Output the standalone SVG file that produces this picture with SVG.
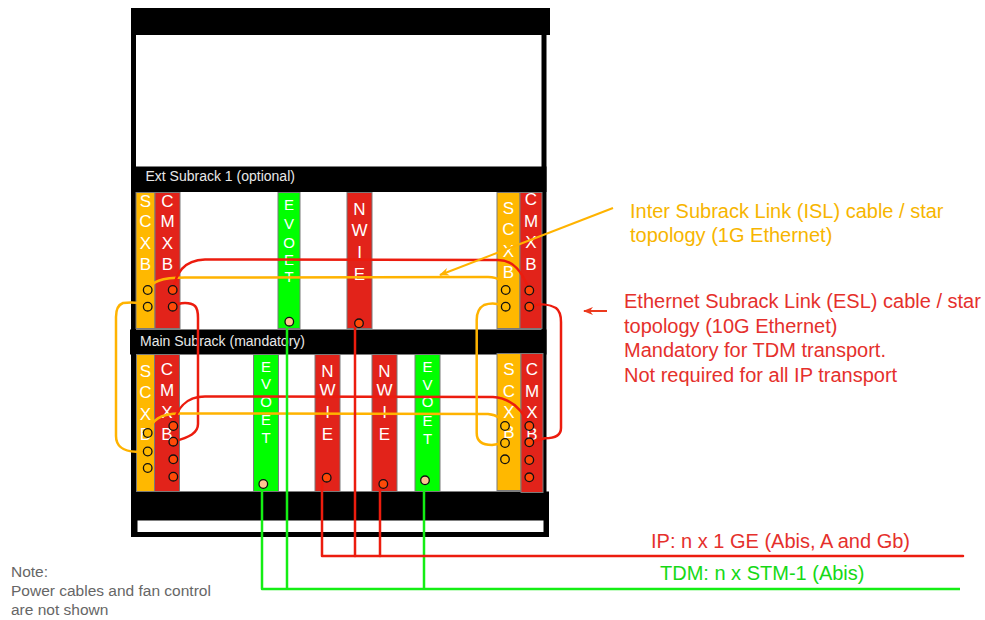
<svg xmlns="http://www.w3.org/2000/svg" width="985" height="620" viewBox="0 0 985 620">
<style>
text{font-family:"Liberation Sans",Arial,sans-serif}
.blk{fill:#000}
.card{stroke:#7a7a7a;stroke-width:1}
.o{fill:#FFB800}
.r{fill:#E2231A}
.g{fill:#00FF00}
.lt{fill:#fff;font-size:17px;text-anchor:middle}
.lt14{fill:#fff;font-size:15px;text-anchor:middle}
.bar{fill:#e8e8e8;font-size:14px}
.co{fill:none;stroke:#FFB300;stroke-width:2.5;stroke-linecap:round;stroke-linejoin:round}
.cr{fill:none;stroke:#EC1C0E;stroke-width:2.5;stroke-linecap:round;stroke-linejoin:round}
.cg{fill:none;stroke:#14EE14;stroke-width:2.5;stroke-linejoin:round}
.dot{stroke:#111;stroke-width:1.3}
.dO{fill:#FFB800}
.dR{fill:#FF4A08}
.dP{fill:#FFC490}
.lbl{font-size:20px}
</style>
<defs>
<marker id="ahO" viewBox="0 0 10 8" refX="9" refY="4" markerWidth="10" markerHeight="8" orient="auto" markerUnits="userSpaceOnUse">
<path d="M0,0 L10,4 L0,8 L3,4 z" fill="#FFB300"/>
</marker>
<marker id="ahR" viewBox="0 0 10 8" refX="9" refY="4" markerWidth="10" markerHeight="8" orient="auto" markerUnits="userSpaceOnUse">
<path d="M0,0 L10,4 L0,8 L3,4 z" fill="#EC3A1E"/>
</marker>
</defs>
<rect width="985" height="620" fill="#fff"/>

<g id="rack">
<rect class="blk" x="131" y="8" width="419" height="27"/>
<rect class="blk" x="131" y="34" width="5" height="500"/>
<rect class="blk" x="541.5" y="34" width="5" height="500"/>
<rect class="blk" x="131" y="491.5" width="418" height="45.5"/>
<rect x="137.5" y="520.5" width="406" height="11.5" fill="#fff"/>
</g>

<g id="ext-subrack">
<rect class="blk" x="131" y="166.5" width="415.5" height="25.5"/>
<text class="bar" x="145.5" y="181">Ext Subrack 1 (optional)</text>
</g>
<g id="main-subrack">
<rect class="blk" x="130" y="329.5" width="416.5" height="25"/>
<text class="bar" x="140" y="346">Main Subrack (mandatory)</text>
</g>

<g id="ext-scxb-l"><rect class="card o" x="136" y="192.5" width="19" height="136"/>
<text class="lt" x="145.5" y="206.5">S</text><text class="lt" x="145.5" y="227">C</text><text class="lt" x="145.5" y="249">X</text><text class="lt" x="145.5" y="270">B</text></g>
<g id="ext-cmxb-l"><rect class="card r" x="155" y="192.5" width="25" height="136"/>
<text class="lt" x="167.5" y="206.5">C</text><text class="lt" x="167.5" y="227">M</text><text class="lt" x="167.5" y="249">X</text><text class="lt" x="167.5" y="270">B</text></g>
<g id="ext-evoet"><rect class="card g" x="278" y="192.5" width="22" height="136"/>
<text class="lt14" x="289" y="210">E</text><text class="lt14" x="289" y="229">V</text><text class="lt14" x="289" y="248">O</text><text class="lt14" x="289" y="265">E</text><text class="lt14" x="289" y="282">T</text></g>
<g id="ext-nwie"><rect class="card r" x="347" y="192.5" width="25" height="136"/>
<text class="lt" x="359.5" y="215">N</text><text class="lt" x="359.5" y="236">W</text><text class="lt" x="359.5" y="258">I</text><text class="lt" x="359.5" y="280">E</text></g>
<g id="ext-scxb-r"><rect class="card o" x="497" y="192.5" width="23" height="136"/>
<text class="lt" x="508.5" y="214">S</text><text class="lt" x="508.5" y="235">C</text><text class="lt" x="508.5" y="257">X</text><text class="lt" x="508.5" y="278">B</text></g>
<g id="ext-cmxb-r"><rect class="card r" x="520" y="192.5" width="22" height="136"/>
<text class="lt" x="531" y="205">C</text><text class="lt" x="531" y="227">M</text><text class="lt" x="531" y="248">X</text><text class="lt" x="531" y="270">B</text></g>

<g id="main-scxb-l"><rect class="card o" x="136.5" y="354.5" width="18" height="137"/>
<text class="lt" x="145.5" y="376.5">S</text><text class="lt" x="145.5" y="398">C</text><text class="lt" x="145.5" y="420">X</text><text class="lt" x="145.5" y="440">B</text></g>
<g id="main-cmxb-l"><rect class="card r" x="154.5" y="354.5" width="25" height="137"/>
<text class="lt" x="167" y="375">C</text><text class="lt" x="167" y="396">M</text><text class="lt" x="167" y="418">X</text><text class="lt" x="167" y="440">B</text></g>
<g id="main-evoet-1"><rect class="card g" x="253.5" y="354.5" width="25" height="137"/>
<text class="lt14" x="266" y="372">E</text><text class="lt14" x="266" y="389">V</text><text class="lt14" x="266" y="406.5">O</text><text class="lt14" x="266" y="425">E</text><text class="lt14" x="266" y="442.5">T</text></g>
<g id="main-nwie-1"><rect class="card r" x="315" y="354.5" width="25" height="137"/>
<text class="lt" x="327.5" y="377">N</text><text class="lt" x="327.5" y="396">W</text><text class="lt" x="327.5" y="418">I</text><text class="lt" x="327.5" y="440">E</text></g>
<g id="main-nwie-2"><rect class="card r" x="372" y="354.5" width="25" height="137"/>
<text class="lt" x="384.5" y="377">N</text><text class="lt" x="384.5" y="396">W</text><text class="lt" x="384.5" y="418">I</text><text class="lt" x="384.5" y="440">E</text></g>
<g id="main-evoet-2"><rect class="card g" x="415" y="354.5" width="25" height="137"/>
<text class="lt14" x="427.5" y="372">E</text><text class="lt14" x="427.5" y="390">V</text><text class="lt14" x="427.5" y="407">O</text><text class="lt14" x="427.5" y="426">E</text><text class="lt14" x="427.5" y="443.5">T</text></g>
<g id="main-scxb-r"><rect class="card o" x="497" y="353.5" width="24" height="137"/>
<text class="lt" x="509" y="375">S</text><text class="lt" x="509" y="397">C</text><text class="lt" x="509" y="418">X</text><text class="lt" x="509" y="438">B</text></g>
<g id="main-cmxb-r"><rect class="card r" x="521" y="353.5" width="22" height="139"/>
<text class="lt" x="532" y="375">C</text><text class="lt" x="532" y="397">M</text><text class="lt" x="532" y="418">X</text><text class="lt" x="532" y="440">B</text></g>

<g id="connectors">
<path class="co" d="M147.7,290 C152,282 160,277.5 185,277.5 L488,277 C500,277 504.5,282 505.7,290"/>
<path class="cr" d="M173,290 C176,274 183,260 205,259.5 L498,260 C514,260 522,272 529.3,290"/>
<path class="co" d="M148,306.7 C140,302 130,302 123,303 C117.5,305 116,310 116,317 L116,436 C116,445 122,451.5 136,451.7 L148,451.7"/>
<path class="cr" d="M173,306.7 C180,302 190,302 195,306 C198,309 198,313 198,318 L198,424 C198,433 190,437 173,441.7"/>
<path class="co" d="M147.7,432.7 C152,420 160,413.5 180,413.5 L488,414 C498,415 503,419 505,426"/>
<path class="cr" d="M173.3,426 C176,410 185,396.5 205,396.5 L493,397 C508,398 521,406 529.3,426"/>
<path class="co" d="M505.7,306.7 C498,303 490,303 484,305 C478.5,308 476.7,313 476.7,320 L476.7,433 C476.7,441 482,445 492,445 L505,443"/>
<path class="cr" d="M529.3,306.7 C540,303 550,304.5 556,308 C560,311 561,316 561,322 L561,428 C561,435 555,438.3 545,438.3 L529.3,442.3"/>
<path class="cg" d="M262,486 V589 H960"/>
<path class="cg" d="M287,326 V589"/>
<path class="cg" d="M424,484 V589"/>
<path class="cr" d="M322,481 V556 H963" stroke-linecap="butt"/>
<path class="cr" d="M355,327 V556" stroke-linecap="butt"/>
<path class="cr" d="M380,488 V556" stroke-linecap="butt"/>
<line x1="613" y1="208" x2="440" y2="275" stroke="#FFB300" stroke-width="2" marker-end="url(#ahO)"/>
<line x1="607" y1="311" x2="584" y2="311" stroke="#EC3A1E" stroke-width="2" marker-end="url(#ahR)"/>
</g>

<g id="ports">
<circle class="dot dO" cx="147.7" cy="290" r="4.3"/><circle class="dot dO" cx="147.7" cy="306.7" r="4.3"/>
<circle class="dot dR" cx="172.7" cy="290" r="4.3"/><circle class="dot dR" cx="172.7" cy="306.7" r="4.3"/>
<circle class="dot dP" cx="289.3" cy="321.7" r="4.3"/>
<circle class="dot dR" cx="359" cy="323.3" r="4.3"/>
<circle class="dot dO" cx="505.7" cy="290" r="4.3"/><circle class="dot dO" cx="505.7" cy="306.7" r="4.3"/>
<circle class="dot dR" cx="529.3" cy="290.5" r="4.3"/><circle class="dot dR" cx="529.3" cy="306.7" r="4.3"/>
<circle class="dot dO" cx="147.7" cy="433" r="4.3"/><circle class="dot dO" cx="147.7" cy="451.5" r="4.3"/><circle class="dot dO" cx="147.7" cy="468" r="4.3"/>
<circle class="dot dR" cx="173.3" cy="426" r="4.3"/><circle class="dot dR" cx="173.3" cy="441.7" r="4.3"/><circle class="dot dR" cx="173.3" cy="459.3" r="4.3"/><circle class="dot dR" cx="173.3" cy="476.7" r="4.3"/>
<circle class="dot dP" cx="263.3" cy="484" r="4.3"/>
<circle class="dot dR" cx="326.7" cy="477.7" r="4.3"/>
<circle class="dot dR" cx="383.3" cy="484" r="4.3"/>
<circle class="dot dP" cx="425" cy="480.3" r="4.3"/>
<circle class="dot dO" cx="505" cy="426" r="4.3"/><circle class="dot dO" cx="505" cy="443" r="4.3"/><circle class="dot dO" cx="505" cy="459.3" r="4.3"/>
<circle class="dot dR" cx="529.3" cy="426" r="4.3"/><circle class="dot dR" cx="529.3" cy="442.3" r="4.3"/><circle class="dot dR" cx="529.3" cy="460" r="4.3"/><circle class="dot dR" cx="529.3" cy="477.3" r="4.3"/>
</g>

<g id="labels">
<text class="lbl" fill="#F7B500" x="630" y="218">Inter Subrack Link (ISL) cable / star</text>
<text class="lbl" fill="#F7B500" x="630" y="242">topology (1G Ethernet)</text>
<text class="lbl" fill="#E5302C" x="624" y="308">Ethernet Subrack Link (ESL) cable / star</text>
<text class="lbl" fill="#E5302C" x="624" y="332.5">topology (10G Ethernet)</text>
<text class="lbl" fill="#E5302C" x="624" y="357">Mandatory for TDM transport.</text>
<text class="lbl" fill="#E5302C" x="624" y="382">Not required for all IP transport</text>
<text class="lbl" fill="#E5302C" x="651" y="548">IP: n x 1 GE (Abis, A and Gb)</text>
<text class="lbl" fill="#16D916" x="660" y="580">TDM: n x STM-1 (Abis)</text>
<text fill="#666" font-size="15.5" x="11" y="577">Note:</text>
<text fill="#666" font-size="15.5" x="11" y="596">Power cables and fan control</text>
<text fill="#666" font-size="15.5" x="11" y="615">are not shown</text>
</g>
</svg>
